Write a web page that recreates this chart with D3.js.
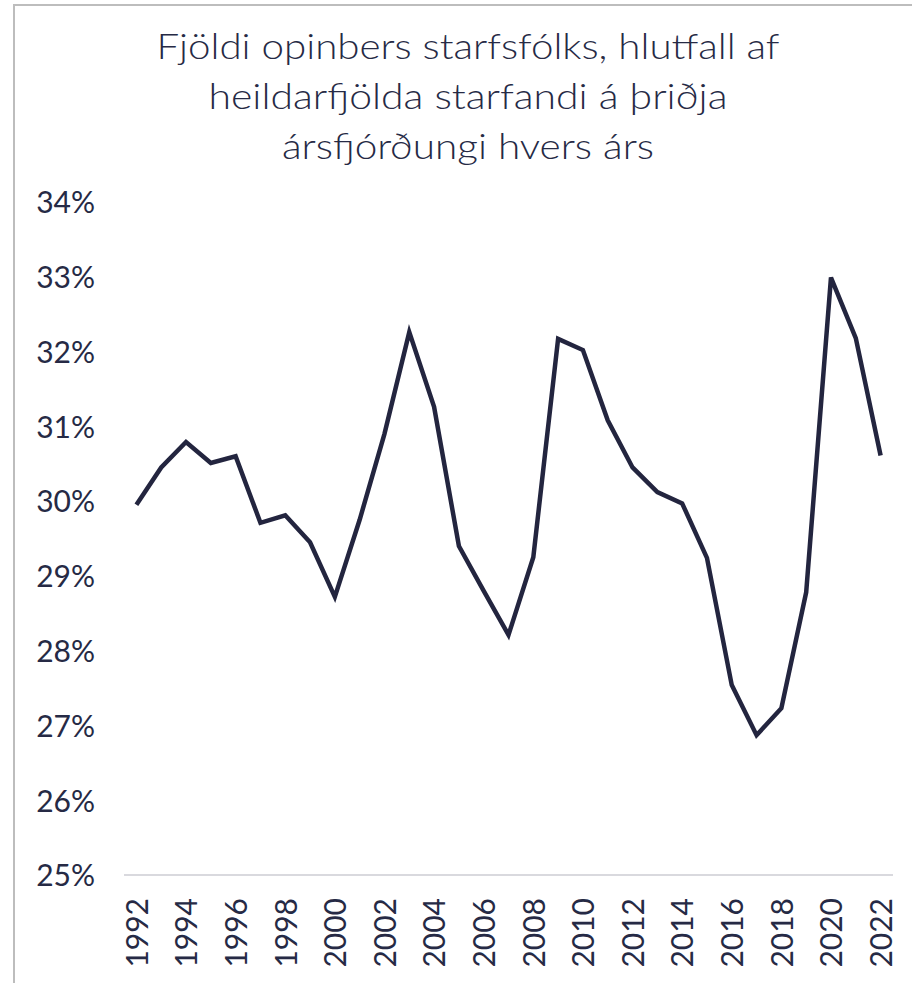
<!DOCTYPE html>
<html>
<head>
<meta charset="utf-8">
<script src="https://cdn.jsdelivr.net/npm/d3@7"></script>
<style>
    body { margin: 0; background: #ffffff; }
    svg { display: block; font-family: Lato, "Noto Sans", sans-serif; }
</style>
</head>
<body>
<svg id="chart" width="912" height="983"></svg>
<script>
"use strict";

const TITLE_LINES = [
    "Fjöldi opinbers starfsfólks, hlutfall af",
    "heildarfjölda starfandi á þriðja",
    "ársfjórðungi hvers árs",
];

const years = d3.range(1992, 2023);

// hlutfall opinbers starfsfólks, %
const shares = [
    29.95, 30.45, 30.79, 30.51, 30.60, 29.71, 29.81, 29.45, 28.72, 29.75,
    30.90, 32.26, 31.26, 29.40, 28.80, 28.21, 29.25, 32.17, 32.02, 31.08,
    30.45, 30.12, 29.97, 29.24, 27.54, 26.87, 27.23, 28.78, 32.99, 32.18,
    30.61,
];

const yTicks = [25, 26, 27, 28, 29, 30, 31, 32, 33, 34];
const xTickYears = years.filter(y => (y - 1992) % 2 === 0);

const TEXT_COLOR = "#262a45";
const LINE_COLOR = "#23253f";

function main() {
    const svg = d3.select("#chart");

    // frame edges
    svg.append("line")
        .attr("x1", 14).attr("x2", 14)
        .attr("y1", 4).attr("y2", 983)
        .attr("stroke", "#bdbdbd").attr("stroke-width", 2);
    svg.append("line")
        .attr("x1", 14).attr("x2", 912)
        .attr("y1", 5).attr("y2", 5)
        .attr("stroke", "#bdbdbd").attr("stroke-width", 2);

    const titleWidths = [623, 519, 372];
    svg.append("g")
        .selectAll("text")
        .data(TITLE_LINES)
        .join("text")
        .attr("x", 468)
        .attr("y", (d, i) => 59 + i * 50)
        .attr("text-anchor", "middle")
        .attr("font-size", 36)
        .attr("font-weight", 300)
        .attr("fill", TEXT_COLOR)
        .attr("textLength", (d, i) => titleWidths[i])
        .attr("lengthAdjust", "spacingAndGlyphs")
        .text(d => d);

    const x = d3.scalePoint()
        .domain(years)
        .range([124, 893])
        .padding(0.5);

    const y = d3.scaleLinear()
        .domain([25, 34])
        .range([875, 202]);

    // y labels
    const yAxis = svg.append("g")
        .attr("transform", "translate(95,0)")
        .call(d3.axisLeft(y)
            .tickValues(yTicks)
            .tickSize(0)
            .tickPadding(0)
            .tickFormat(d => `${d}%`));
    yAxis.select(".domain").remove();
    yAxis.selectAll("text")
        .attr("font-size", 30)
        .attr("font-family", "Lato, sans-serif")
        .attr("fill", TEXT_COLOR)
        .attr("dy", "0.36em");

    // x axis
    svg.append("line")
        .attr("x1", 124).attr("x2", 893)
        .attr("y1", 875).attr("y2", 875)
        .attr("stroke", "#d9d9de").attr("stroke-width", 2);

    const xAxis = svg.append("g")
        .attr("transform", "translate(0,875)")
        .call(d3.axisBottom(x)
            .tickValues(xTickYears)
            .tickSize(0)
            .tickFormat(d => d));
    xAxis.select(".domain").remove();
    xAxis.selectAll("text")
        .attr("font-size", 30)
        .attr("font-family", "Lato, sans-serif")
        .attr("fill", TEXT_COLOR)
        .attr("text-anchor", "end")
        .attr("transform", "rotate(-90)")
        .attr("x", -23)
        .attr("y", 0)
        .attr("dy", "0.36em");

    const line = d3.line()
        .x((d, i) => x(years[i]))
        .y(d => y(d));

    svg.append("path")
        .datum(shares)
        .attr("fill", "none")
        .attr("stroke", LINE_COLOR)
        .attr("stroke-width", 4.5)
        .attr("stroke-linejoin", "miter")
        .attr("d", line);
}

main();
</script>
</body>
</html>
